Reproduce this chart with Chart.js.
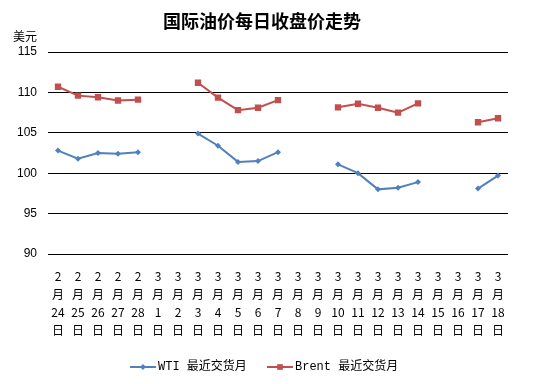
<!DOCTYPE html>
<html><head><meta charset="utf-8">
<script src="https://cdn.jsdelivr.net/npm/chart.js@4"></script>
<style>html,body{margin:0;padding:0;background:#fff}#w{width:544px;height:384px}</style>
</head><body><div id="w"><canvas id="c" width="544" height="384"></canvas></div>
<script>
const title = "国际油价每日收盘价走势";
const unitLabel = "美元";
const months = ["2","2","2","2","2","3","3","3","3","3","3","3","3","3","3","3","3","3","3","3","3","3","3"];
const days = ["24","25","26","27","28","1","2","3","4","5","6","7","8","9","10","11","12","13","14","15","16","17","18"];
const wti = [102.8,101.8,102.5,102.4,102.6,null,null,104.9,103.4,101.4,101.5,102.6,null,null,101.1,100.0,98.0,98.2,98.9,null,null,98.1,99.7];
const brent = [110.7,109.6,109.4,109.0,109.1,null,null,111.2,109.35,107.8,108.1,109.05,null,null,108.15,108.6,108.1,107.5,108.65,null,null,106.3,106.8];
const seriesNames = ["WTI 最近交货月","Brent 最近交货月"];
const yTicks = [90,95,100,105,110,115];

const labels = months.map((m,i)=>[m,"月",days[i],"日"]);
const cjk = '"Noto Sans CJK SC", "Liberation Sans", sans-serif';

const deco = {
  id:'deco',
  afterDraw(chart){
    const ctx = chart.ctx;
    ctx.save();
    ctx.fillStyle = '#000';
    ctx.font = 'bold 18px ' + cjk;
    ctx.textAlign = 'center'; ctx.textBaseline = 'middle';
    ctx.fillText(title, 262, 21);
    ctx.font = '12px ' + cjk;
    ctx.fillText(unitLabel, 25, 36);
    const items = [
      {x:130, color:'#4F81BD', style:'rectRot', r:3, name:seriesNames[0]},
      {x:267, color:'#C0504D', style:'rect', r:4, name:seriesNames[1]}
    ];
    const y = 367;
    items.forEach(it=>{
      ctx.strokeStyle = it.color; ctx.lineWidth = 2;
      ctx.beginPath(); ctx.moveTo(it.x, y); ctx.lineTo(it.x+26, y); ctx.stroke();
      ctx.fillStyle = it.color;
      Chart.helpers.drawPoint(ctx, {pointStyle: it.style, radius: it.r, borderWidth: 0}, it.x+13, y);
      ctx.fillStyle = '#000';
      ctx.font = '12px "Liberation Mono", "Noto Sans CJK SC", monospace';
      ctx.textAlign = 'left';
      ctx.fillText(it.name, it.x+28, y);
    });
    ctx.restore();
  }
};

new Chart(document.getElementById('c'), {
  type:'line',
  data:{labels, datasets:[
    {label:seriesNames[0], data:wti, borderColor:'#4F81BD', backgroundColor:'#4F81BD', borderWidth:2, pointStyle:'rectRot', pointRadius:3, pointBorderWidth:0, spanGaps:false, tension:0},
    {label:seriesNames[1], data:brent, borderColor:'#C0504D', backgroundColor:'#C0504D', borderWidth:2, pointStyle:'rect', pointRadius:4.5, pointBorderWidth:0, spanGaps:false, tension:0}
  ]},
  options:{
    responsive:false, animation:false, devicePixelRatioOverride:1,
    layout:{padding:{left:0,right:36,top:52,bottom:40}},
    plugins:{legend:{display:false}, title:{display:false}, tooltip:{enabled:false}},
    scales:{
      x:{
        offset:true,
        grid:{display:false, drawTicks:false},
        border:{display:false},
        ticks:{font:{family:cjk,size:12,lineHeight:1.5}, color:'#000', padding:13, maxRotation:0, autoSkip:false},
        afterFit(s){ s.height = 90; }
      },
      y:{
        min:90, max:115,
        afterBuildTicks(s){ s.ticks = yTicks.map(v=>({value:v})); },
        grid:{color:'#000', lineWidth:1, drawTicks:false},
        border:{display:false},
        ticks:{font:{family:'"Liberation Sans", Arial, sans-serif',size:12}, color:'#000', padding:11},
        afterFit(s){ s.width = 48; }
      }
    }
  },
  plugins:[deco]
});
</script></body></html>
